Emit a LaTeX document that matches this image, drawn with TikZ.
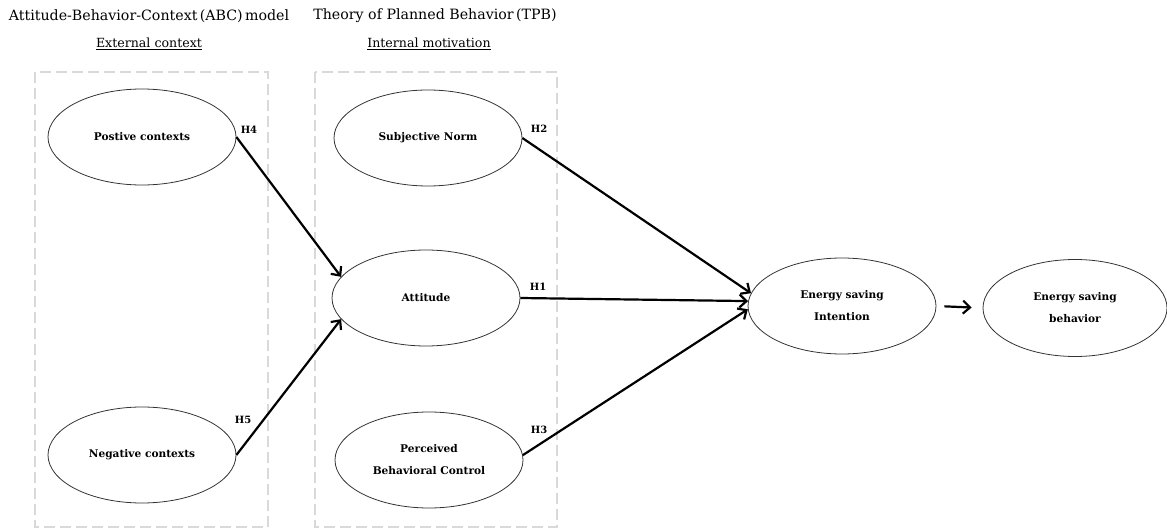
\documentclass[tikz,border=0pt]{standalone}
\usepackage{fontspec}
\setmainfont{DejaVu Serif}
\usetikzlibrary{arrows.meta,shapes.geometric}
\begin{document}
\begin{tikzpicture}[x=1pt,y=-1pt,
  ell/.style={draw=black!80,line width=0.8pt,ellipse,minimum width=188pt,minimum height=96pt,inner sep=0pt,font=\fontsize{10.6}{22}\selectfont\bfseries,align=center},
  frame/.style={draw=black!15,line width=2.6pt,dash pattern=on 11pt off 5pt},
  arr/.style={line width=2.2pt,-{Straight Barb[length=7pt,width=13pt,line width=2.2pt]}},
  hlab/.style={font=\fontsize{10}{12}\selectfont\bfseries,inner sep=0pt},
  ttl/.style={font=\fontsize{14.2}{16}\selectfont,inner sep=0pt},
  sub/.style={font=\fontsize{12.6}{15}\selectfont,inner sep=0pt},
]
\useasboundingbox (0,0) rectangle (1167,529);
% titles
\node[ttl] (t1) at (149,16) {Attitude-Behavior-Context\,(ABC)\,model};
\node[ttl] (t2) at (435,16) {Theory of Planned Behavior\,(TPB)};
\node[sub] (s1) at (149,44) {\underline{External context}};
\node[sub] (s2) at (429,44) {\underline{Internal motivation}};
% frames
\draw[frame] (35,72) rectangle (268,527);
\draw[frame] (315,72) rectangle (557,527);
% ellipses
\node[ell] (pc) at (142,137) {Postive contexts};
\node[ell] (nc) at (142,455) {Negative contexts};
\node[ell] (sn) at (428,138) {Subjective Norm};
\node[ell] (att) at (426,298) {Attitude};
\node[ell] (pbc) at (429,460) {Perceived\\Behavioral Control};
\node[ell] (int) at (842,306) {Energy saving\\Intention};
\node[ell,minimum width=184pt,minimum height=97pt] (beh) at (1075,308) {Energy saving\\behavior};
% arrows
\draw[arr] (pc.east) -- (att.166);
\draw[arr] (nc.east) -- (att.194);
\draw[arr] (sn.east) -- (int.172);
\draw[arr] (att.east) -- (int.177);
\draw[arr] (pbc.3) -- (int.182);
\draw[arr,shorten <=8pt,shorten >=11pt] (int.east) -- (beh.west);
% labels
\node[hlab] (h4) at (249,130) {H4};
\node[hlab] (h5) at (243,420) {H5};
\node[hlab] (h2) at (539,129) {H2};
\node[hlab] (h1) at (538,287) {H1};
\node[hlab] (h3) at (539,430) {H3};
\end{tikzpicture}
\end{document}
